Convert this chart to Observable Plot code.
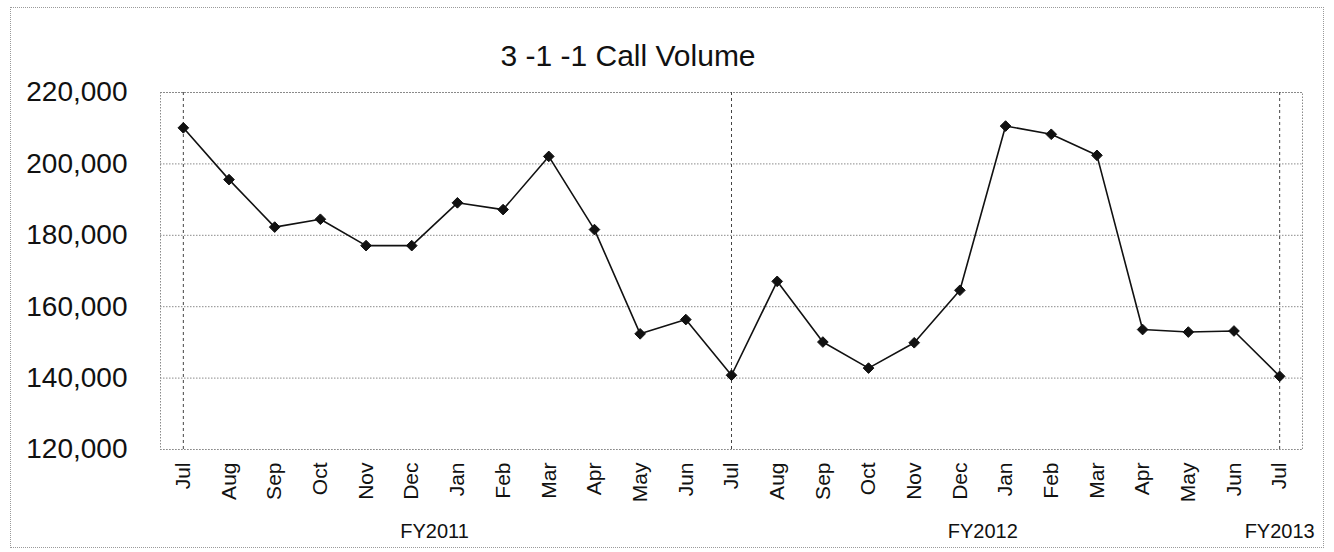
<!DOCTYPE html>
<html>
<head>
<meta charset="utf-8">
<script src="https://cdn.jsdelivr.net/npm/d3@7"></script>
<script src="https://cdn.jsdelivr.net/npm/@observablehq/plot@0.6"></script>
<style>
  html, body { margin: 0; padding: 0; background: #fff; }
  #wrap { position: relative; width: 1334px; height: 552px; overflow: hidden; font-family: "Liberation Sans", Arial, sans-serif; }
  #border { position: absolute; left: 10px; top: 7px; width: 1314px; height: 541px; border: 1px dotted #9a9a9a; box-sizing: border-box; pointer-events: none; }
  #title { position: absolute; left: 328px; top: 41px; width: 600px; text-align: center; font-size: 30px; line-height: 30px; color: #111; }
  #chart { position: absolute; left: 0; top: 0; }
</style>
</head>
<body>
<div id="wrap">
  <div id="chart"></div>
  <div id="border"></div>
  <div id="title">3 -1 -1 Call Volume</div>
</div>
<script>
// ---- data ----
const months = ["Jul","Aug","Sep","Oct","Nov","Dec","Jan","Feb","Mar","Apr","May","Jun",
                "Jul","Aug","Sep","Oct","Nov","Dec","Jan","Feb","Mar","Apr","May","Jun","Jul"];
const calls = [210100, 195600, 182300, 184500, 177100, 177100, 189100, 187200, 202100, 181600, 152400, 156400,
               140800, 167100, 150100, 142800, 149900, 164600, 210600, 208300, 202400, 153600, 152900, 153200, 140500];
const fiscalYears = ["FY2011", "FY2012", "FY2013"];
const fyStart = [0, 12, 24];
const fyEnd = [11, 23, 24];
const yTicks = [120000, 140000, 160000, 180000, 200000, 220000];

// ---- derived tables ----
const points = calls.map((v, i) => ({i, v, m: months[i]}));
const fyLabels = fiscalYears.map((label, k) => ({label, x: (fyStart[k] + fyEnd[k]) / 2}));

const fontFamily = '"Liberation Sans", Arial, sans-serif';

const chart = Plot.plot({
  width: 1334,
  height: 552,
  marginLeft: 160,
  marginRight: 32,
  marginTop: 92,
  marginBottom: 103,
  style: {fontFamily, background: "transparent", color: "#111", overflow: "visible"},
  x: {type: "linear", domain: [-0.5, months.length - 0.5]},
  y: {domain: [120000, 220000]},
  marks: [
    Plot.gridY(yTicks, {stroke: "#8a8a8a", strokeOpacity: 1, strokeDasharray: "1.5,1.5"}),
    Plot.frame({stroke: "#8a8a8a", strokeDasharray: "1.5,1.5"}),
    Plot.ruleX(fyStart, {stroke: "#444", strokeDasharray: "3,3", strokeWidth: 1}),
    Plot.axisY({ticks: yTicks, tickFormat: d3.format(","), tickSize: 0, tickPadding: 33, fontSize: 28, label: null}),
    Plot.axisX({ticks: d3.range(months.length), tickFormat: i => months[i], tickRotate: -90, tickSize: 0, tickPadding: 13, fontSize: 21, label: null}),
    Plot.lineY(points, {x: "i", y: "v", stroke: "#111", strokeWidth: 1.6}),
    Plot.dot(points, {x: "i", y: "v", symbol: "diamond2", r: 4.8, fill: "#111", stroke: "#111", strokeWidth: 1}),
    Plot.text(fyLabels, {x: "x", text: "label", frameAnchor: "bottom", dy: 82, fontSize: 20, fill: "#111", lineAnchor: "middle"})
  ]
});
document.getElementById("chart").appendChild(chart);
</script>
</body>
</html>
